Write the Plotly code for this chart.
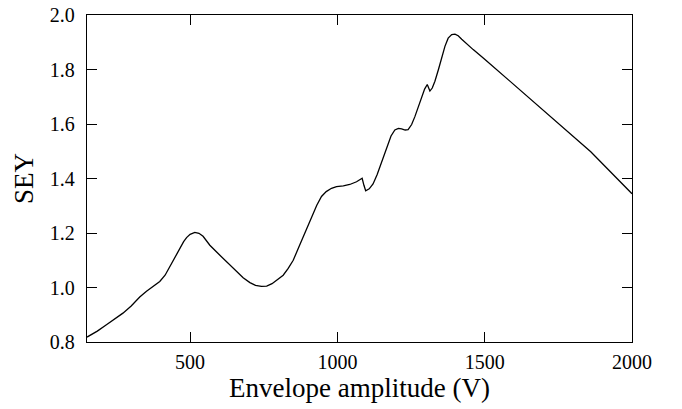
import plotly.graph_objects as go

# Envelope amplitude (V)
amplitude = [150, 185, 216, 245, 272, 300, 329, 352, 375, 397, 415, 431, 448, 465, 478, 488,
             500, 516, 530, 544, 556, 567, 590, 612, 635, 657, 680, 703, 722, 742, 760, 778,
             793, 816, 833, 850, 867, 884, 898, 912, 930, 946, 962, 980, 997, 1020, 1042, 1065,
             1084, 1090, 1096, 1108, 1121, 1135, 1150, 1167, 1182, 1195, 1207, 1218, 1230, 1240,
             1252, 1263, 1275, 1286, 1296, 1305, 1314, 1322, 1331, 1343, 1354, 1365, 1376, 1388,
             1399, 1410, 1422, 1440, 1461, 1500, 1541, 1600, 1676, 1766, 1820, 1860, 1920, 1965,
             2000]
# Secondary electron yield
sey = [0.818, 0.840, 0.863, 0.884, 0.906, 0.932, 0.965, 0.986, 1.004, 1.022, 1.045, 1.077,
       1.112, 1.145, 1.168, 1.183, 1.195, 1.202, 1.199, 1.188, 1.172, 1.155, 1.130, 1.107,
       1.082, 1.059, 1.036, 1.018, 1.008, 1.004, 1.005, 1.014, 1.027, 1.045, 1.070, 1.100,
       1.143, 1.187, 1.225, 1.262, 1.302, 1.334, 1.352, 1.364, 1.370, 1.373, 1.378, 1.388,
       1.401, 1.375, 1.355, 1.362, 1.380, 1.415, 1.462, 1.517, 1.556, 1.578, 1.584, 1.582,
       1.578, 1.579, 1.598, 1.627, 1.665, 1.700, 1.728, 1.745, 1.721, 1.732, 1.757, 1.800,
       1.847, 1.885, 1.915, 1.928, 1.930, 1.924, 1.911, 1.893, 1.873, 1.838, 1.799, 1.744,
       1.672, 1.587, 1.536, 1.498, 1.432, 1.383, 1.344]

x_ticks = [500, 1000, 1500, 2000]
y_ticks = [0.8, 1.0, 1.2, 1.4, 1.6, 1.8, 2.0]

FONT = "Liberation Serif"

fig = go.Figure()
fig.add_trace(go.Scatter(x=amplitude, y=sey, mode="lines",
                         line=dict(color="black", width=1.3), showlegend=False))

axis_common = dict(showline=True, linecolor="black", linewidth=1.3, mirror="allticks",
                   ticks="inside", ticklen=10, tickwidth=1.2, tickcolor="black",
                   showgrid=False, zeroline=False, automargin=False,
                   tickfont=dict(family=FONT, size=20, color="black"))

fig.update_layout(
    width=682, height=409,
    margin=dict(l=87, r=50, t=15, b=67),
    paper_bgcolor="white", plot_bgcolor="white",
    xaxis=dict(range=[150, 2000], tickvals=x_ticks, ticktext=[str(v) for v in x_ticks],
               ticklabelstandoff=2,
               title=dict(text="Envelope amplitude (V)", font=dict(family=FONT, size=27, color="black"),
                          standoff=1),
               **axis_common),
    yaxis=dict(range=[0.8, 2.0], tickvals=y_ticks, ticktext=[f"{v:.1f}" for v in y_ticks],
               ticklabelstandoff=7,
               title=dict(text="SEY", font=dict(family=FONT, size=27, color="black"), standoff=8),
               **axis_common),
)

fig.write_html("out.html", config={"displayModeBar": False},
               post_script="document.body.style.margin='0';document.body.style.overflow='hidden';")
